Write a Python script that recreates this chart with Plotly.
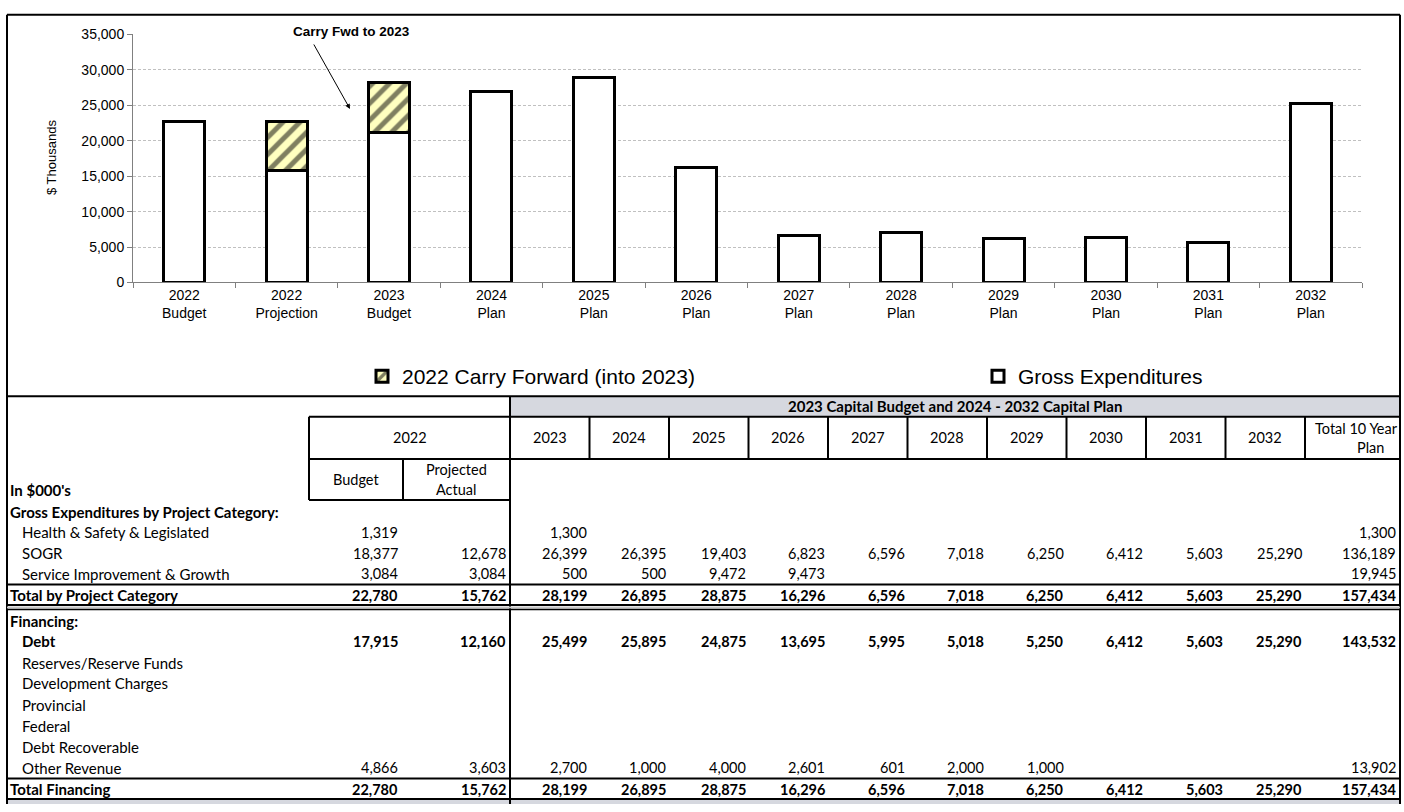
import plotly.graph_objects as go

W, H = 1404, 812

# ---------------- data ----------------
categories = ["2022<br>Budget", "2022<br>Projection", "2023<br>Budget", "2024<br>Plan",
              "2025<br>Plan", "2026<br>Plan", "2027<br>Plan", "2028<br>Plan",
              "2029<br>Plan", "2030<br>Plan", "2031<br>Plan", "2032<br>Plan"]
gross_expenditures = [22780, 15762, 21181, 26895, 28875, 16296, 6596, 7018, 6250, 6412, 5603, 25290]
carry_forward = [None, 7018, 7018, None, None, None, None, None, None, None, None, None]
y_ticks = [0, 5000, 10000, 15000, 20000, 25000, 30000, 35000]

table_title = "2023 Capital Budget and 2024 - 2032 Capital Plan"
table_years = ["2023", "2024", "2025", "2026", "2027", "2028", "2029", "2030", "2031", "2032"]
row_labels = ["Gross Expenditures by Project Category:",
              "Health & Safety & Legislated", "SOGR", "Service Improvement & Growth",
              "Total by Project Category", "Financing:", "Debt", "Reserves/Reserve Funds",
              "Development Charges", "Provincial", "Federal", "Debt Recoverable",
              "Other Revenue", "Total Financing"]
# columns: 2022 Budget, 2022 Projected Actual, 2023..2032, Total 10 Year Plan
health_safety = [1319, None, 1300, None, None, None, None, None, None, None, None, None, 1300]
sogr = [18377, 12678, 26399, 26395, 19403, 6823, 6596, 7018, 6250, 6412, 5603, 25290, 136189]
service_growth = [3084, 3084, 500, 500, 9472, 9473, None, None, None, None, None, None, 19945]
total_category = [22780, 15762, 28199, 26895, 28875, 16296, 6596, 7018, 6250, 6412, 5603, 25290, 157434]
debt = [17915, 12160, 25499, 25895, 24875, 13695, 5995, 5018, 5250, 6412, 5603, 25290, 143532]
empty_row = [None] * 13
other_revenue = [4866, 3603, 2700, 1000, 4000, 2601, 601, 2000, 1000, None, None, None, 13902]
total_financing = [22780, 15762, 28199, 26895, 28875, 16296, 6596, 7018, 6250, 6412, 5603, 25290, 157434]
row_values = [empty_row, health_safety, sogr, service_growth, total_category, empty_row, debt,
              empty_row, empty_row, empty_row, empty_row, empty_row, other_revenue, total_financing]

# ---------------- helpers ----------------
def px(x):
    return x / W

def py(y):
    return 1 - y / H

CF = "Liberation Sans, Arial, sans-serif"
TF = "Lato, Carlito, Calibri, sans-serif"
LS = 15      # table label size
NS = 14.5    # table number size

shapes = []
annotations = []

def hline(y, x0, x1, w=2, c="black"):
    shapes.append(dict(type="line", xref="paper", yref="paper", x0=px(x0), x1=px(x1),
                       y0=py(y), y1=py(y), line=dict(color=c, width=w), layer="above"))

def vline(x, y0, y1, w=2, c="black"):
    shapes.append(dict(type="line", xref="paper", yref="paper", x0=px(x), x1=px(x),
                       y0=py(y0), y1=py(y1), line=dict(color=c, width=w), layer="above"))

def txt(x, y, s, anchor="left", size=LS, bold=False, family=TF):
    annotations.append(dict(xref="paper", yref="paper", x=px(x), y=py(y),
                            text=("<b>%s</b>" % s) if bold else s, showarrow=False,
                            xanchor=anchor, yanchor="middle",
                            font=dict(family=family, size=size, color="black")))

# ---------------- chart ----------------
fig = go.Figure()
fig.add_trace(go.Bar(x=categories, y=gross_expenditures, name="Gross Expenditures",
                     width=0.4, legend="legend2", showlegend=True,
                     marker=dict(color="white", line=dict(color="black", width=3))))
fig.add_trace(go.Bar(x=categories, y=carry_forward, name="2022 Carry Forward (into 2023)",
                     width=0.4, legend="legend", showlegend=True,
                     marker=dict(color="#ffffc0", line=dict(color="black", width=3),
                                 pattern=dict(shape="/", fgcolor="black", bgcolor="#ffffc0",
                                              size=12, solidity=0.42))))

# annotation text + arrow
txt(351, 24, "Carry Fwd to 2023", anchor="center", size=13.5, bold=True, family=CF)
annotations.append(dict(xref="paper", yref="paper", x=px(350), y=py(103), text="",
                        showarrow=True, ax=-37, ay=-66, arrowhead=2, arrowsize=1,
                        arrowwidth=1, arrowcolor="black"))
# y-axis title
annotations.append(dict(xref="paper", yref="paper", x=px(52), y=py(153), text="$ Thousands",
                        showarrow=False, textangle=-90, xanchor="center", yanchor="middle",
                        font=dict(family=CF, size=13, color="black")))

# ---------------- table ----------------
vline(7, 7, 812)
vline(1400, 7, 812)
hline(7, 7, 1400)
shapes.append(dict(type="rect", xref="paper", yref="paper", x0=px(510), x1=px(1400),
                   y0=py(396), y1=py(417), fillcolor="#d6d8df", line=dict(width=0), layer="below"))
shapes.append(dict(type="rect", xref="paper", yref="paper", x0=px(7), x1=px(1400),
                   y0=py(808), y1=py(812), fillcolor="#d6d8df", line=dict(width=0), layer="below"))
hline(396, 7, 1400)
hline(417, 309, 1400)
hline(460, 309, 1400)
hline(502, 309, 510)
vline(309, 417, 502)
vline(403, 460, 502)
vline(510, 396, 812)
col_w = 79.5
bounds = [510 + col_w * k for k in range(11)]
for b in bounds[1:]:
    vline(b, 417, 460)
hline(588, 7, 1400)
hline(609, 7, 1400, w=2)
hline(611.5, 7, 1400, w=2, c="#c8c8c8")
hline(613.5, 7, 1400, w=1.5)
hline(786, 7, 1400)
hline(807, 7, 1400)

txt(955, 406.5, table_title, anchor="center", bold=True)
txt(409.5, 438, "2022", anchor="center", size=NS)
for k, yr in enumerate(table_years):
    txt((bounds[k] + bounds[k + 1]) / 2, 438, yr, anchor="center", size=NS)
txt(1400, 429, "Total 10 Year", anchor="right", size=NS)
txt(1370, 448, "Plan", anchor="center", size=NS)
txt(356, 481, "Budget", anchor="center", size=NS)
txt(456, 471, "Projected", anchor="center", size=NS)
txt(456, 491, "Actual", anchor="center", size=NS)
txt(8, 492, "In $000's", bold=True)

value_right = [400, 508] + [b - 1 for b in bounds[1:]] + [1398]
row_y = [514, 535, 556, 577, 599, 625, 646, 668, 689, 711, 732, 754, 775, 797]
bold_rows = {"Gross Expenditures by Project Category:", "Total by Project Category",
             "Financing:", "Debt", "Total Financing"}
flush_rows = {"Gross Expenditures by Project Category:", "Total by Project Category",
              "Financing:", "Total Financing"}
for lab, vals, yy in zip(row_labels, row_values, row_y):
    b = lab in bold_rows
    txt(8 if lab in flush_rows else 20, yy, lab, bold=b)
    for v, xr in zip(vals, value_right):
        if v is not None:
            txt(xr, yy, f"{v:,}", anchor="right", bold=b, size=NS)

fig.update_layout(
    width=W, height=H, margin=dict(l=0, r=0, t=0, b=0), autosize=False,
    paper_bgcolor="white", plot_bgcolor="white", showlegend=True,
    barmode="stack",
    font=dict(family=CF, size=14, color="black"),
    xaxis=dict(domain=[px(133), px(1362)], type="category", tickson="boundaries",
               ticks="outside", ticklen=5, tickcolor="#808080", showline=True,
               linecolor="#808080", linewidth=1, showgrid=False,
               tickfont=dict(family=CF, size=14, color="black"), fixedrange=True),
    yaxis=dict(domain=[py(280), py(27)], range=[0, 35000], tickvals=y_ticks, tickformat=",",
               ticks="outside", ticklen=5, tickcolor="#808080", showline=True,
               linecolor="#808080", linewidth=1, showgrid=True, gridcolor="#c0c0c0",
               griddash="3px,2px", gridwidth=1, zeroline=False,
               tickfont=dict(family=CF, size=14, color="black"), fixedrange=True),
    legend=dict(orientation="h", x=px(362), xanchor="left", y=py(376), yanchor="middle",
                font=dict(family=CF, size=21, color="black"), bgcolor="rgba(0,0,0,0)"),
    legend2=dict(orientation="h", x=px(978), xanchor="left", y=py(376), yanchor="middle",
                 font=dict(family=CF, size=21, color="black"), bgcolor="rgba(0,0,0,0)"),
    shapes=shapes, annotations=annotations,
)

fig.write_html("out.html", config={"displayModeBar": False},
               post_script="document.body.style.margin='0';document.body.style.overflow='hidden';")
